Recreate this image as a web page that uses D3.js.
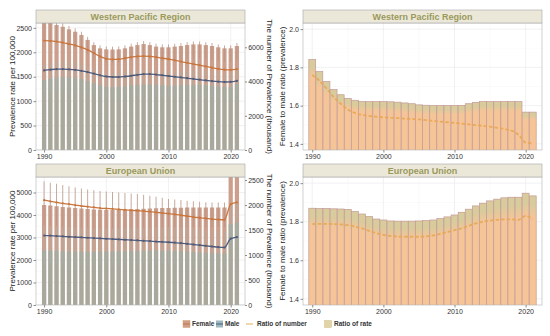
<!DOCTYPE html>
<html>
<head>
<meta charset="utf-8">
<script src="https://cdn.jsdelivr.net/npm/d3@7"></script>
<style>
  body { margin: 0; background: #fff; }
  svg { font-family: "Liberation Sans", Arial, sans-serif; }
</style>
</head>
<body>
<svg id="chart" width="550" height="336"></svg>
<script>
// ---- data ----
const years = [1990, 1991, 1992, 1993, 1994, 1995, 1996, 1997, 1998, 1999, 2000, 2001, 2002, 2003, 2004, 2005,
               2006, 2007, 2008, 2009, 2010, 2011, 2012, 2013, 2014, 2015, 2016, 2017, 2018, 2019, 2020, 2021];
const xTicks = [1990, 2000, 2010, 2020];

// Western Pacific Region: rates per 100,000 (left axis)
const wprFemaleRate = [2240, 2235, 2220, 2200, 2170, 2140, 2100, 2050, 1985, 1915, 1865, 1855, 1860, 1880, 1900, 1915,
                       1920, 1915, 1900, 1880, 1860, 1835, 1810, 1785, 1760, 1735, 1710, 1685, 1660, 1645, 1640, 1655];
const wprMaleRate = [1630, 1645, 1655, 1655, 1650, 1640, 1620, 1595, 1565, 1530, 1505, 1495, 1495, 1505, 1520, 1540,
                     1555, 1555, 1545, 1530, 1515, 1500, 1485, 1470, 1455, 1440, 1425, 1410, 1398, 1392, 1395, 1415];
// Western Pacific Region: number of prevalent cases, thousand (right axis)
const wprFemaleNum = [7500, 7450, 7300, 7200, 7050, 6910, 6720, 6430, 6130, 5940, 5880, 5870, 5880, 5940, 6040, 6130,
                      6190, 6130, 6040, 6000, 6000, 6040, 6075, 6130, 6170, 6170, 6130, 6075, 6000, 5940, 5940, 6075];
const wprFemaleUpper = [7700, 7650, 7500, 7400, 7250, 7100, 6910, 6610, 6300, 6110, 6050, 6040, 6050, 6110, 6210, 6300,
                        6360, 6300, 6210, 6170, 6170, 6210, 6250, 6300, 6340, 6340, 6300, 6250, 6170, 6110, 6110, 6250];
const wprFemaleLower = [6500, 6450, 6330, 6240, 6110, 5990, 5820, 5570, 5310, 5150, 5100, 5090, 5100, 5150, 5240, 5320,
                        5370, 5320, 5240, 5200, 5200, 5240, 5270, 5320, 5350, 5350, 5320, 5270, 5200, 5150, 5150, 5270];
const wprMaleNum = [4090, 4180, 4240, 4260, 4250, 4220, 4150, 4030, 3900, 3780, 3700, 3680, 3690, 3720, 3760, 3800,
                    3830, 3830, 3810, 3780, 3760, 3760, 3780, 3800, 3810, 3810, 3790, 3760, 3720, 3680, 3700, 3850];
const wprMaleUpper = [5000, 5100, 5170, 5200, 5190, 5150, 5060, 4920, 4760, 4610, 4510, 4490, 4500, 4540, 4590, 4640,
                      4670, 4670, 4650, 4610, 4590, 4590, 4610, 4640, 4650, 4650, 4620, 4590, 4540, 4490, 4510, 4700];
const wprMaleLower = [3350, 3420, 3470, 3490, 3480, 3450, 3400, 3300, 3190, 3100, 3030, 3010, 3020, 3050, 3080, 3110,
                      3140, 3140, 3120, 3100, 3080, 3080, 3100, 3110, 3120, 3120, 3100, 3080, 3050, 3010, 3030, 3150];

// European Union
const euFemaleRate = [4660, 4610, 4560, 4520, 4480, 4440, 4400, 4370, 4340, 4310, 4290, 4270, 4250, 4230, 4210, 4190,
                      4170, 4150, 4120, 4090, 4060, 4030, 3990, 3950, 3910, 3880, 3850, 3820, 3800, 3790, 4480, 4560];
const euMaleRate = [3090, 3080, 3065, 3050, 3035, 3020, 3005, 2990, 2975, 2960, 2945, 2930, 2915, 2900, 2885, 2870,
                    2855, 2840, 2820, 2805, 2790, 2770, 2750, 2720, 2690, 2660, 2630, 2600, 2570, 2555, 2950, 3020];
const euFemaleNum = [2000, 1990, 1975, 1960, 1950, 1940, 1930, 1920, 1910, 1905, 1900, 1900, 1905, 1910, 1915, 1920,
                     1925, 1930, 1935, 1940, 1940, 1945, 1945, 1950, 1950, 1950, 1950, 1950, 1950, 1950, 3150, 3180];
const euFemaleUpper = [2470, 2445, 2425, 2400, 2375, 2350, 2330, 2310, 2295, 2280, 2270, 2260, 2250, 2240, 2230, 2220,
                       2205, 2185, 2165, 2145, 2120, 2110, 2100, 2085, 2075, 2065, 2055, 2050, 2050, 2050, 3800, 3850];
const euFemaleLower = [1600, 1590, 1580, 1570, 1560, 1550, 1545, 1540, 1530, 1525, 1520, 1520, 1525, 1530, 1530, 1535,
                       1540, 1545, 1550, 1550, 1550, 1555, 1555, 1560, 1560, 1560, 1560, 1560, 1560, 1560, 2550, 2570];
const euMaleNum = [1090, 1088, 1082, 1075, 1070, 1068, 1066, 1065, 1065, 1068, 1070, 1072, 1075, 1078, 1082, 1085,
                   1088, 1090, 1090, 1088, 1085, 1080, 1075, 1068, 1060, 1052, 1045, 1040, 1035, 1032, 1620, 1650];
const euMaleUpper = [1560, 1555, 1548, 1540, 1532, 1528, 1525, 1522, 1522, 1525, 1528, 1530, 1535, 1538, 1542, 1546,
                     1550, 1552, 1552, 1550, 1546, 1540, 1532, 1522, 1512, 1500, 1490, 1482, 1476, 1472, 2000, 2030];
const euMaleLower = [820, 818, 813, 808, 804, 802, 800, 800, 800, 802, 804, 806, 808, 810, 813, 815,
                     818, 820, 820, 818, 815, 812, 808, 802, 796, 790, 785, 781, 777, 775, 1250, 1270];

// Female to male ratio
const wprRatioRate = [1.841, 1.778, 1.726, 1.684, 1.657, 1.638, 1.628, 1.621, 1.621, 1.621, 1.621, 1.620, 1.618, 1.614, 1.610, 1.604,
                      1.602, 1.600, 1.600, 1.600, 1.600, 1.601, 1.610, 1.617, 1.621, 1.621, 1.621, 1.621, 1.621, 1.621, 1.566, 1.566];
const wprRatioNumber = [1.760, 1.730, 1.690, 1.645, 1.610, 1.580, 1.562, 1.552, 1.546, 1.542, 1.539, 1.537, 1.535, 1.532, 1.530, 1.528,
                        1.524, 1.520, 1.516, 1.513, 1.510, 1.506, 1.502, 1.498, 1.494, 1.490, 1.484, 1.478, 1.469, 1.448, 1.407, 1.403];
const euRatioRate = [1.870, 1.868, 1.868, 1.867, 1.866, 1.864, 1.853, 1.840, 1.827, 1.814, 1.809, 1.804, 1.803, 1.803, 1.803, 1.804,
                     1.806, 1.809, 1.816, 1.825, 1.835, 1.849, 1.865, 1.882, 1.896, 1.908, 1.917, 1.924, 1.927, 1.927, 1.948, 1.934];
const euRatioNumber = [1.788, 1.789, 1.789, 1.788, 1.786, 1.782, 1.775, 1.765, 1.753, 1.741, 1.732, 1.726, 1.723, 1.722, 1.722, 1.722,
                       1.724, 1.729, 1.737, 1.747, 1.756, 1.766, 1.779, 1.791, 1.800, 1.806, 1.810, 1.812, 1.812, 1.810, 1.830, 1.813];

// ---- layout ----
const svg = d3.select("#chart");
const COL = {
  female: "#cc9f8c", male: "#8fb1a6", femaleLine: "#c9773f", maleLine: "#4d5b7c",
  rateBar: "#f6c597", rateTop: "#d8cb9c", rateStroke: "#c49a98", numLine: "#e9a655",
  strip: "#ebe8da", stripText: "#9a995a", grid: "#ebebeb", minor: "#f5f5f5", border: "#b3b3b3"
};
const LEFT = [36, 245], RIGHT = [303, 542];
const TOP = { strip: 10, y0: 23, y1: 150 }, BOT = { strip: 164, y0: 177, y1: 305 };
const xDomain = [1988.7, 2022.3];

const defs = svg.append("defs");
const grad = defs.append("linearGradient").attr("id", "rateFill")
  .attr("x1", 0).attr("y1", 0).attr("x2", 0).attr("y2", 1);
grad.append("stop").attr("offset", 0).attr("stop-color", COL.rateTop);
grad.append("stop").attr("offset", 0.08).attr("stop-color", COL.rateTop);
grad.append("stop").attr("offset", 0.2).attr("stop-color", COL.rateBar);
grad.append("stop").attr("offset", 1).attr("stop-color", COL.rateBar);

let clipId = 0;

function strip(xr, row, label) {
  svg.append("rect").attr("x", xr[0]).attr("y", row.strip).attr("width", xr[1] - xr[0]).attr("height", row.y0 - row.strip)
    .attr("fill", COL.strip).attr("stroke", "#a5a5a5").attr("stroke-width", 0.6);
  svg.append("text").attr("x", (xr[0] + xr[1]) / 2).attr("y", (row.strip + row.y0) / 2 + 3.2)
    .attr("text-anchor", "middle").style("font-size", "9px").style("font-weight", "bold")
    .style("fill", COL.stripText).text(label);
}

function styleAxis(sel) {
  sel.select(".domain").remove();
  sel.selectAll(".tick line").attr("stroke", "#444").attr("stroke-width", 0.6);
  sel.selectAll(".tick text").style("font-size", "7px").style("fill", "#333");
}

function panelBase(xr, row, x, y, yMinor) {
  const clip = "clip" + (clipId++);
  defs.append("clipPath").attr("id", clip).append("rect")
    .attr("x", xr[0]).attr("y", row.y0).attr("width", xr[1] - xr[0]).attr("height", row.y1 - row.y0);
  const g = svg.append("g").attr("clip-path", `url(#${clip})`);
  g.append("rect").attr("x", xr[0]).attr("y", row.y0).attr("width", xr[1] - xr[0]).attr("height", row.y1 - row.y0).attr("fill", "#fff");
  const minorX = [1995, 2005, 2015];
  g.selectAll(".vmin").data(minorX).join("line")
    .attr("x1", d => x(d)).attr("x2", d => x(d)).attr("y1", row.y0).attr("y2", row.y1)
    .attr("stroke", COL.minor).attr("stroke-width", 0.5);
  g.selectAll(".hmin").data(yMinor).join("line")
    .attr("x1", xr[0]).attr("x2", xr[1]).attr("y1", d => y(d)).attr("y2", d => y(d))
    .attr("stroke", COL.minor).attr("stroke-width", 0.5);
  g.selectAll(".vmaj").data(xTicks).join("line")
    .attr("x1", d => x(d)).attr("x2", d => x(d)).attr("y1", row.y0).attr("y2", row.y1)
    .attr("stroke", COL.grid).attr("stroke-width", 0.7);
  return g;
}

function finishPanel(xr, row, x) {
  svg.append("rect").attr("x", xr[0]).attr("y", row.y0).attr("width", xr[1] - xr[0]).attr("height", row.y1 - row.y0)
    .attr("fill", "none").attr("stroke", COL.border).attr("stroke-width", 0.6);
  svg.append("g").attr("transform", `translate(0,${row.y1})`)
    .call(d3.axisBottom(x).tickValues(xTicks).tickFormat(d3.format("d")).tickSize(2.5).tickPadding(1.5))
    .call(styleAxis);
}

function countPanel(row, label, d) {
  const xr = LEFT;
  const x = d3.scaleLinear().domain(xDomain).range(xr);
  const yL = d3.scaleLinear().domain([0, d.maxL]).range([row.y1, row.y0]);
  const yR = d3.scaleLinear().domain([0, d.maxR]).range([row.y1, row.y0]);
  const g = panelBase(xr, row, x, yL, d.ticksL.map(t => t + d.ticksL[1] / 2));
  g.selectAll(".hmaj").data(d.ticksL).join("line")
    .attr("x1", xr[0]).attr("x2", xr[1]).attr("y1", v => yL(v)).attr("y2", v => yL(v))
    .attr("stroke", COL.grid).attr("stroke-width", 0.7);

  const bw = 0.68;
  g.selectAll(".fbar").data(years).join("rect")
    .attr("x", (yr) => x(yr - bw / 2)).attr("width", x(bw) - x(0))
    .attr("y", (yr, i) => yR(d.fNum[i])).attr("height", (yr, i) => row.y1 - yR(d.fNum[i]))
    .attr("fill", COL.female);
  g.selectAll(".mbar").data(years).join("rect")
    .attr("x", (yr) => x(yr - bw / 2)).attr("width", x(bw) - x(0))
    .attr("y", (yr, i) => yR(d.mNum[i])).attr("height", (yr, i) => row.y1 - yR(d.mNum[i]))
    .attr("fill", COL.male).attr("opacity", 0.6);
  // uncertainty intervals
  g.selectAll(".ferr").data(years).join("line")
    .attr("x1", yr => x(yr)).attr("x2", yr => x(yr))
    .attr("y1", (yr, i) => yR(d.fLo[i])).attr("y2", (yr, i) => yR(d.fUp[i]))
    .attr("stroke", "#b99484").attr("stroke-width", 0.8);
  g.selectAll(".merr").data(years).join("line")
    .attr("x1", yr => x(yr)).attr("x2", yr => x(yr))
    .attr("y1", (yr, i) => yR(d.mLo[i])).attr("y2", (yr, i) => yR(d.mUp[i]))
    .attr("stroke", "#a3b2ab").attr("stroke-width", 0.7);

  const line = vals => d3.line().x((yr) => x(yr)).y((yr, i) => yL(vals[i])).curve(d3.curveMonotoneX)(years);
  [[d.fRate, COL.femaleLine], [d.mRate, COL.maleLine]].forEach(([vals, c]) => {
    g.append("path").attr("d", line(vals)).attr("fill", "none").attr("stroke", c).attr("stroke-width", 1.3);
    g.selectAll(null).data(years).join("circle")
      .attr("cx", yr => x(yr)).attr("cy", (yr, i) => yL(vals[i])).attr("r", 1.1).attr("fill", c);
  });

  finishPanel(xr, row, x);
  svg.append("g").attr("transform", `translate(${xr[0]},0)`)
    .call(d3.axisLeft(yL).tickValues(d.ticksL).tickFormat(d3.format("d")).tickSize(2.5).tickPadding(1.5)).call(styleAxis);
  svg.append("g").attr("transform", `translate(${xr[1]},0)`)
    .call(d3.axisRight(yR).tickValues(d.ticksR).tickFormat(d3.format("d")).tickSize(2).tickPadding(1.2)).call(styleAxis);

  const cy = (row.y0 + row.y1) / 2;
  svg.append("text").attr("transform", `translate(15,${cy}) rotate(-90)`).attr("text-anchor", "middle")
    .style("font-size", "8px").style("fill", "#222").text("Prevalence rate per 100,000");
  svg.append("text").attr("transform", `translate(266.5,${cy}) rotate(90)`).attr("text-anchor", "middle")
    .style("font-size", "8px").style("fill", "#222").text("The number of Prevalence (thousand)");
  strip(xr, row, label);
}

function ratioPanel(row, label, rate, num) {
  const xr = RIGHT;
  const x = d3.scaleLinear().domain(xDomain).range(xr);
  const y = d3.scaleLinear().domain([1.368, 2.032]).range([row.y1, row.y0]);
  const ticks = [1.4, 1.6, 1.8, 2.0];
  const g = panelBase(xr, row, x, y, [1.5, 1.7, 1.9]);
  g.selectAll(".hmaj").data(ticks).join("line")
    .attr("x1", xr[0]).attr("x2", xr[1]).attr("y1", v => y(v)).attr("y2", v => y(v))
    .attr("stroke", COL.grid).attr("stroke-width", 0.7);

  const bw = 0.97;
  g.selectAll(".rbar").data(years).join("rect")
    .attr("x", yr => x(yr - bw / 2)).attr("width", x(bw) - x(0))
    .attr("y", (yr, i) => y(rate[i])).attr("height", (yr, i) => row.y1 + 2 - y(rate[i]))
    .attr("fill", "url(#rateFill)").attr("stroke", COL.rateStroke).attr("stroke-width", 0.7);

  g.append("path")
    .attr("d", d3.line().x(yr => x(yr)).y((yr, i) => y(num[i])).curve(d3.curveMonotoneX)(years))
    .attr("fill", "none").attr("stroke", COL.numLine).attr("stroke-width", 1.8)
    .attr("stroke-dasharray", "3.5,2").attr("opacity", 0.9);

  finishPanel(xr, row, x);
  svg.append("g").attr("transform", `translate(${xr[0]},0)`)
    .call(d3.axisLeft(y).tickValues(ticks).tickFormat(d3.format(".1f")).tickSize(2.5).tickPadding(1.5)).call(styleAxis);
  svg.append("text").attr("transform", `translate(285,${(row.y0 + row.y1) / 2}) rotate(-90)`).attr("text-anchor", "middle")
    .style("font-size", "8px").style("fill", "#222").text("Female to male ratio (prevalence)");
  strip(xr, row, label);
}

countPanel(TOP, "Western Pacific Region", {
  maxL: 2600, maxR: 7420, ticksL: [0, 500, 1000, 1500, 2000, 2500], ticksR: [0, 2000, 4000, 6000],
  fRate: wprFemaleRate, mRate: wprMaleRate, fNum: wprFemaleNum, fUp: wprFemaleUpper, fLo: wprFemaleLower,
  mNum: wprMaleNum, mUp: wprMaleUpper, mLo: wprMaleLower
});
countPanel(BOT, "European Union", {
  maxL: 5690, maxR: 2560, ticksL: [0, 1000, 2000, 3000, 4000, 5000], ticksR: [0, 500, 1000, 1500, 2000, 2500],
  fRate: euFemaleRate, mRate: euMaleRate, fNum: euFemaleNum, fUp: euFemaleUpper, fLo: euFemaleLower,
  mNum: euMaleNum, mUp: euMaleUpper, mLo: euMaleLower
});
ratioPanel(TOP, "Western Pacific Region", wprRatioRate, wprRatioNumber);
ratioPanel(BOT, "European Union", euRatioRate, euRatioNumber);

// ---- legend ----
const lg = svg.append("g").style("font-size", "6.5px").style("font-weight", "bold").style("fill", "#333");
const ly = 324;
lg.append("rect").attr("x", 183).attr("y", ly - 3.5).attr("width", 7).attr("height", 7)
  .attr("fill", COL.female).attr("stroke", "#d9a070").attr("stroke-width", 0.5);
lg.append("line").attr("x1", 183).attr("x2", 190).attr("y1", ly).attr("y2", ly).attr("stroke", COL.femaleLine).attr("stroke-width", 1);
lg.append("text").attr("x", 192).attr("y", ly + 2.3).text("Female");
lg.append("rect").attr("x", 216).attr("y", ly - 3.5).attr("width", 7).attr("height", 7).attr("fill", "#9cb8bd");
lg.append("line").attr("x1", 216).attr("x2", 223).attr("y1", ly).attr("y2", ly).attr("stroke", COL.maleLine).attr("stroke-width", 1);
lg.append("text").attr("x", 225).attr("y", ly + 2.3).text("Male");
lg.append("line").attr("x1", 246).attr("x2", 253).attr("y1", ly).attr("y2", ly).attr("stroke", "#eecb8c").attr("stroke-width", 1.5);
lg.append("text").attr("x", 257).attr("y", ly + 2.3).text("Ratio of number");
lg.append("rect").attr("x", 324.5).attr("y", ly - 3.5).attr("width", 7).attr("height", 7)
  .attr("fill", "#e3d4a6").attr("stroke", "#cdbd90").attr("stroke-width", 0.5);
lg.append("text").attr("x", 334).attr("y", ly + 2.3).text("Ratio of rate");
</script>
</body>
</html>
